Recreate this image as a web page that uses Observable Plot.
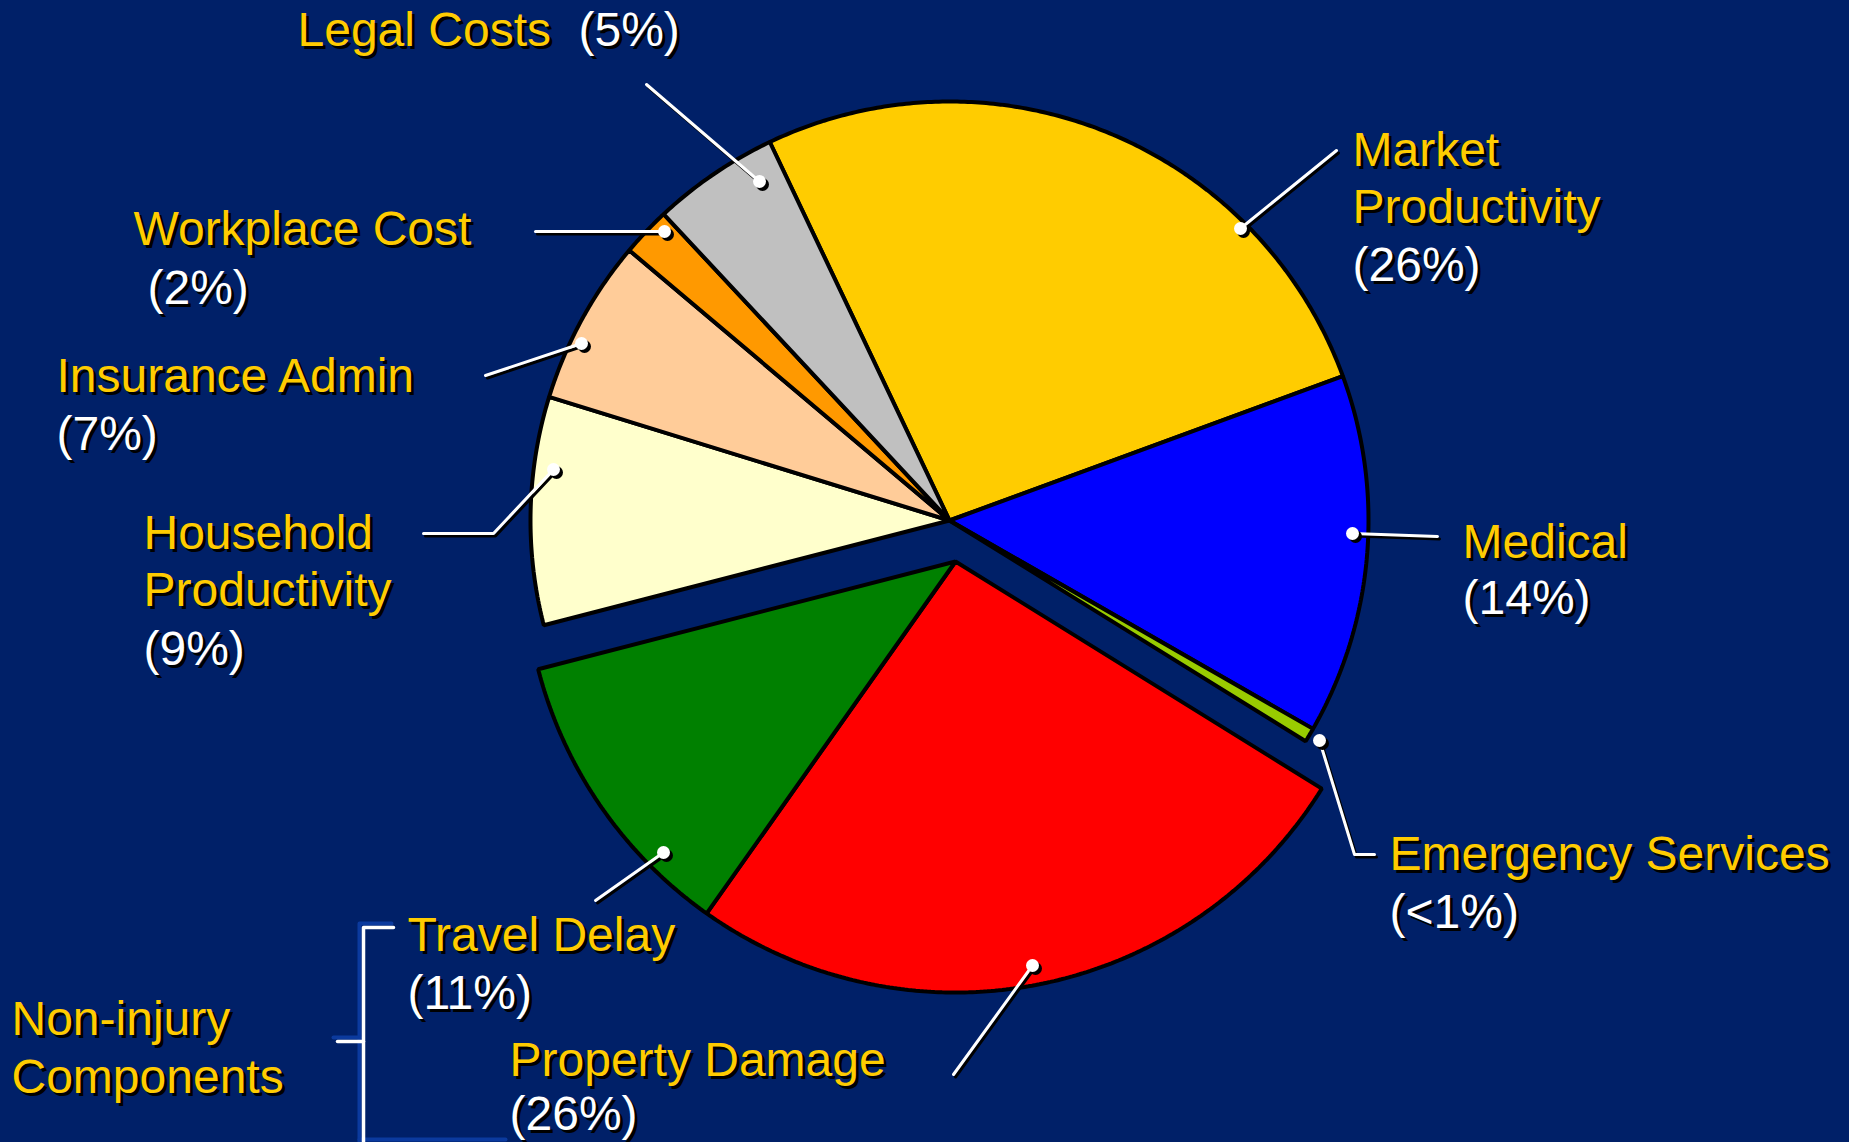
<!DOCTYPE html>
<html>
<head>
<meta charset="utf-8">
<script src="https://cdn.jsdelivr.net/npm/d3@7"></script>
<script src="https://cdn.jsdelivr.net/npm/@observablehq/plot@0.6"></script>
<style>
  html, body { margin: 0; padding: 0; background: #002068; overflow: hidden; }
  #chart svg { display: block; }
</style>
</head>
<body>
<div id="chart"></div>
<script>
// ---------------- DATA ----------------
const categories = ["Market Productivity", "Medical", "Emergency Services", "Property Damage", "Travel Delay",
                    "Household Productivity", "Insurance Admin", "Workplace Cost", "Legal Costs"];
const shares = [26.5, 13.9, 0.55, 26.0, 11.2, 8.8, 6.4, 1.9, 4.9];
const percentLabels = ["(26%)", "(14%)", "(<1%)", "(26%)", "(11%)", "(9%)", "(7%)", "(2%)", "(5%)"];
const nameLines = [["Market", "Productivity"], ["Medical"], ["Emergency Services"], ["Property Damage"], ["Travel Delay"],
                   ["Household", "Productivity"], ["Insurance Admin"], ["Workplace Cost"], ["Legal Costs"]];
const explodedGroup = ["Property Damage", "Travel Delay"];
const groupLabel = ["Non-injury", "Components"];

// ---------------- STYLE / LAYOUT ----------------
const sliceColors = ["#FFCC00", "#0000FF", "#99CC00", "#FF0000", "#008000", "#FFFFCC", "#FFCC99", "#FF9900", "#C0C0C0"];
const W = 1849, H = 1142;
const BG = "#002068";
const startDeg = -25.4;
const center = {x: 949, y: 520}, radius = 419;
const explode = {dx: 6, dy: 41, r: 431};
const FONT = "Liberation Sans, Arial, sans-serif";
const FS = 48;
// label line anchors (left x, baseline y): name lines then percent line
const labelLayout = {
  "Market Productivity":    {lines: [[1352, 165], [1352, 222]], pct: [1352, 280], leader: [[1336, 150], [1240, 228]]},
  "Medical":                {lines: [[1462, 557]], pct: [1462, 613], leader: [[1437, 536], [1352, 533]]},
  "Emergency Services":     {lines: [[1389, 869]], pct: [1389, 927], leader: [[1374, 854], [1354, 854], [1319, 740]]},
  "Property Damage":        {lines: [[509, 1075]], pct: [509, 1129], leader: [[953, 1074], [1032, 965]]},
  "Travel Delay":           {lines: [[407, 950]], pct: [407, 1008], leader: [[595, 900], [663, 852]]},
  "Household Productivity": {lines: [[143, 548], [143, 605]], pct: [143, 664], leader: [[423, 533], [493, 533], [553, 469]]},
  "Insurance Admin":        {lines: [[56, 391]], pct: [56, 449], leader: [[485, 375], [581, 343]]},
  "Workplace Cost":         {lines: [[133, 244]], pct: [147, 303], leader: [[535, 231], [664, 231]]},
  "Legal Costs":            {lines: [[297, 45]], pct: [578, 45], leader: [[646, 84], [759, 181]]}
};
const groupLabelLayout = [[11, 1034], [11, 1092]];
const bracketWhite = [
  {id: "a", pts: [[393, 927], [363, 927], [363, 1142]]},
  {id: "b", pts: [[337, 1041], [363, 1041]]}
];
const bracketBlue = [
  {id: "a", pts: [[391, 923], [359, 923], [359, 1142]]},
  {id: "b", pts: [[333, 1037], [359, 1037]]},
  {id: "c", pts: [[359, 1139], [505, 1139]]}
];

// ---------------- BUILD ----------------
const pie = d3.pie().sort(null).value(d => d)
  .startAngle(startDeg * Math.PI / 180)
  .endAngle(startDeg * Math.PI / 180 + 2 * Math.PI);
const arcs = pie(shares);
const slicePts = [];
arcs.forEach((a, i) => {
  const name = categories[i];
  const ex = explodedGroup.includes(name);
  const cx = ex ? center.x + explode.dx : center.x;
  const cy = ex ? center.y + explode.dy : center.y;
  const r = ex ? explode.r : radius;
  slicePts.push({name, x: cx, y: cy});
  const n = Math.max(2, Math.ceil((a.endAngle - a.startAngle) / (Math.PI / 360)));
  for (let k = 0; k <= n; k++) {
    const t = a.startAngle + (a.endAngle - a.startAngle) * k / n;
    slicePts.push({name, x: cx + r * Math.sin(t), y: cy - r * Math.cos(t)});
  }
});

const texts = [];
categories.forEach((name, i) => {
  const L = labelLayout[name];
  nameLines[i].forEach((t, j) => texts.push({text: t, x: L.lines[j][0], y: L.lines[j][1], kind: "name"}));
  texts.push({text: percentLabels[i], x: L.pct[0], y: L.pct[1], kind: "pct"});
});
groupLabel.forEach((t, j) => texts.push({text: t, x: groupLabelLayout[j][0], y: groupLabelLayout[j][1], kind: "name"}));

const leaderPts = [];
const dots = [];
categories.forEach(name => {
  const pts = labelLayout[name].leader;
  pts.forEach(p => leaderPts.push({name, x: p[0], y: p[1]}));
  const last = pts[pts.length - 1];
  dots.push({name, x: last[0], y: last[1]});
});
const flat = arr => arr.flatMap(s => s.pts.map(p => ({id: s.id, x: p[0], y: p[1]})));

const textOpts = {x: "x", y: "y", text: "text", textAnchor: "start", lineAnchor: "bottom",
                  fontSize: FS, fontFamily: FONT};

const chart = Plot.plot({
  width: W, height: H,
  margin: 0,
  style: {background: BG, overflow: "hidden"},
  x: {domain: [0, W], range: [0, W], axis: null},
  y: {domain: [0, H], range: [0, H], axis: null},
  color: {domain: categories, range: sliceColors},
  marks: [
    // bracket
    Plot.line(flat(bracketBlue), {x: "x", y: "y", z: "id", stroke: "#0B3A9E", strokeWidth: 4}),
    Plot.line(flat(bracketWhite), {x: "x", y: "y", z: "id", stroke: "#FFFFFF", strokeWidth: 3.5}),
    // pie slices
    Plot.line(slicePts, {x: "x", y: "y", z: "name", fill: "name", stroke: "#000000", strokeWidth: 4,
                         strokeLinejoin: "miter", curve: "linear-closed"}),
    // leader lines with shadows
    Plot.line(leaderPts, {x: "x", y: "y", z: "name", stroke: "#000000", strokeWidth: 3, dx: 2, dy: 2.5}),
    Plot.line(leaderPts, {x: "x", y: "y", z: "name", stroke: "#FFFFFF", strokeWidth: 3}),
    Plot.dot(dots, {x: "x", y: "y", r: 6.5, fill: "#000000", dx: 3, dy: 3}),
    Plot.dot(dots, {x: "x", y: "y", r: 6.5, fill: "#FFFFFF"}),
    // labels with drop shadow
    Plot.text(texts, {...textOpts, fill: "#000000", dx: 3, dy: 3}),
    Plot.text(texts.filter(d => d.kind === "name"), {...textOpts, fill: "#FFCC00"}),
    Plot.text(texts.filter(d => d.kind === "pct"), {...textOpts, fill: "#FFFFFF"})
  ]
});
document.getElementById("chart").appendChild(chart);
</script>
</body>
</html>
